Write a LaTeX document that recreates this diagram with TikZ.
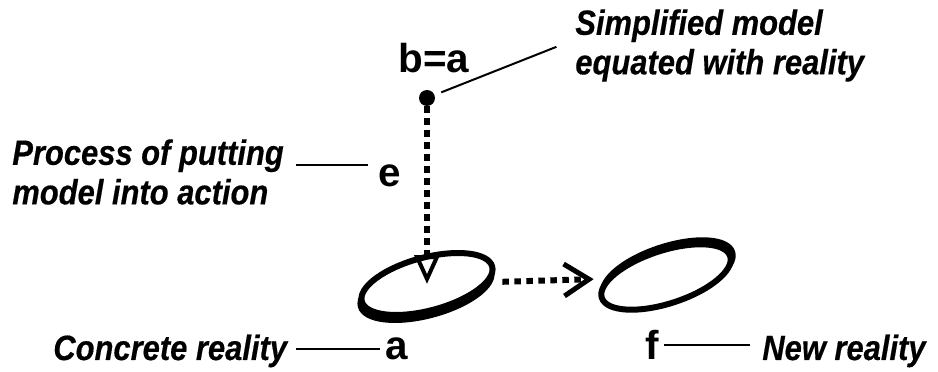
\documentclass[tikz,border=0pt]{standalone}
\usepackage{fontspec}
\setmainfont{Liberation Sans}
\newfontfamily\narrowfont{Liberation Sans}[FakeStretch=0.88, FakeBold=0.4]
\usetikzlibrary{positioning,shapes.geometric,arrows.meta}

\begin{document}
\begin{tikzpicture}[
  x=0.02cm, y=0.02cm,
  lbl/.style={font=\narrowfont\bfseries\itshape\fontsize{20}{22.5}\selectfont, align=left, inner sep=0pt},
  letter/.style={font=\bfseries\fontsize{23}{27}\selectfont, inner sep=3pt},
  leader/.style={line width=0.04cm},
  dotline/.style={line width=0.12cm, dash pattern=on 0.13cm off 0.11cm},
  ring/.style={ellipse, draw, fill=white, line width=0.12cm, inner sep=0pt, outer sep=0pt,
    minimum width=2.7cm, minimum height=1.06cm}
]
\useasboundingbox (0,0) rectangle (938,372);

\node[ring, rotate=15, preaction={draw, line width=0.12cm, transform canvas={shift={(-1,-5)}}}] (ell1) at (427,88) {};
\node[ring, rotate=18, preaction={draw, line width=0.12cm, transform canvas={shift={(2,4)}}}] (ell2) at (666,95) {};
\node[circle, fill, inner sep=0pt, minimum size=0.32cm] (dot) at (427,274) {};

\node[letter, anchor=base] (ba) at (434,299) {b=a};
\node[letter, anchor=base] (e) at (390,185) {e};
\node[letter, anchor=base] (a) at (397,12) {a};
\node[letter, anchor=base] (f) at (652,12) {f};

\node[lbl, anchor=north west] (simp) at (575,363) {Simplified model\\equated with reality};
\node[lbl, anchor=north west] (proc) at (12,233) {Process of putting\\model into action};
\node[lbl, anchor=base west] (concrete) at (53,12) {Concrete reality};
\node[lbl, anchor=base west] (newr) at (762,12) {New reality};

\draw[dotline, -{Triangle[open, length=0.58cm, width=0.5cm, line width=0.08cm]}] (dot) -- (ell1.center);
\draw[dotline, -{Straight Barb[length=0.5cm, width=0.64cm, line width=0.1cm]},
  shorten <=0.32cm, shorten >=0.32cm] (ell1) -- (ell2);

\draw[leader, shorten <=0.14cm, shorten >=0.4cm] (dot) -- ([yshift=0.12cm]simp.west);
\draw[leader, shorten >=0.24cm] ([xshift=-0.1cm, yshift=0.22cm]e.west) -- ([yshift=0.22cm]e.west -| proc.east);
\draw[leader, shorten >=0.18cm] (a.west) -- (a.west -| concrete.east);
\draw[leader, shorten >=0.24cm] (f.east) -- (f.east -| newr.west);
\end{tikzpicture}
\end{document}
